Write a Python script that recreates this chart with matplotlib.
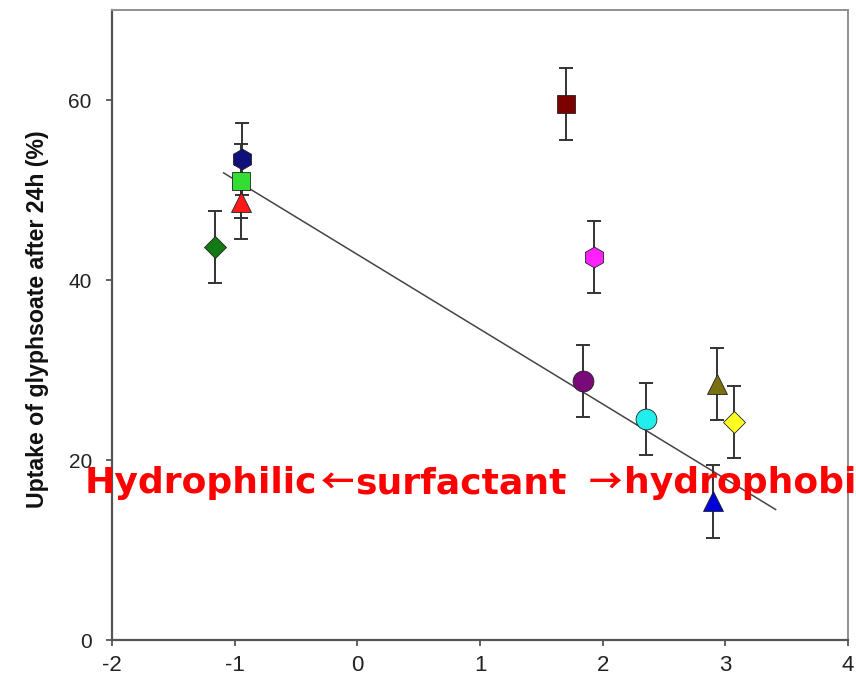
import numpy as np
import matplotlib
matplotlib.use("Agg")
import matplotlib.pyplot as plt

# surfactant hydrophobicity (x) vs glyphosate uptake after 24 h (y)
x_vals = [-1.16, -0.94, -0.95, -0.95, 1.70, 1.93, 1.84, 2.35, 2.93, 3.07, 2.90]
y_vals = [43.7, 53.4, 51.0, 48.7, 59.6, 42.6, 28.8, 24.6, 28.5, 24.2, 15.4]
y_err = [4.0, 4.0, 4.1, 4.1, 4.0, 4.0, 4.0, 4.0, 4.0, 4.0, 4.1]
markers = ["D", "h", "s", "^", "s", "h", "o", "o", "^", "D", "^"]
colors = ["#137a13", "#10107a", "#33dd33", "#ff1a1a", "#7d0000", "#ff22ff",
          "#7a0a7a", "#22eeee", "#7a7010", "#ffff22", "#0000d8"]
marker_sizes = {"D": 11.5, "h": 15, "s": 13.5, "^": 15, "o": 15}

# fitted regression line end points
fit_x = [-1.09, 3.41]
fit_y = [51.9, 14.5]

fig = plt.figure(figsize=(8.56, 6.78), dpi=100)
ax = fig.add_axes([112 / 856, 38 / 678, 736 / 856, 630 / 678])

ax.plot(fit_x, fit_y, color="#444444", lw=1.1, zorder=1)

for xv, yv, e in zip(x_vals, y_vals, y_err):
    ax.errorbar(xv, yv, yerr=e, fmt="none", ecolor="#333333", elinewidth=1.4,
                capsize=5, capthick=1.4, zorder=2)
for xv, yv, m, c in zip(x_vals, y_vals, markers, colors):
    ax.plot(xv, yv, marker=m, color=c, markersize=marker_sizes[m],
            markeredgecolor="#222222", markeredgewidth=0.6,
            linestyle="none", zorder=3)

ax.set_xlim(-2, 4)
ax.set_ylim(0, 70)
ax.set_xticks([-2, -1, 0, 1, 2, 3, 4])
ax.set_yticks([0, 20, 40, 60])
ax.tick_params(direction="out", length=4.5, width=1.3, color="#555555",
               labelcolor="#222222")
ax.tick_params(axis="y", pad=10, labelsize=15)
ax.tick_params(axis="x", pad=6, labelsize=16)
ax.set_xticklabels(["-2", "-1", "0", "1", "2", "3", "4"], family="Liberation Sans")
ax.set_yticklabels(["0", "20", "40", "60"], family="Liberation Sans")

for s in ("left", "bottom"):
    ax.spines[s].set_color("#555555")
    ax.spines[s].set_linewidth(1.6)
for s in ("top", "right"):
    ax.spines[s].set_color("#909090")
    ax.spines[s].set_linewidth(1.4)

ax.set_ylabel("Uptake of glyphsoate after 24h (%)", family="Liberation Sans",
              fontweight="bold", fontsize=16.7, labelpad=14, color="#111111")
ax.yaxis.label.set_y(0.51)

# overlaid red annotation, pieces placed so arrows get their own spacing
base_y = (678 - 493) / 678
pieces = [(85, "Hydrophilic", 26, "bold", "DejaVu Sans"),
          (321, "\u2190", 24, "bold", "Noto Sans CJK SC"),
          (355, "surfactant", 26, "bold", "DejaVu Sans"),
          (589, "\u2192", 24, "bold", "Noto Sans CJK SC"),
          (624, "hydrophobic", 26, "bold", "DejaVu Sans")]
for px, txt, fs, wt, fam in pieces:
    fig.text(px / 856, base_y, txt, color="#ff0000", fontsize=fs,
             fontweight=wt, family=fam, ha="left", va="baseline")

fig.savefig("out.png", dpi=100)
